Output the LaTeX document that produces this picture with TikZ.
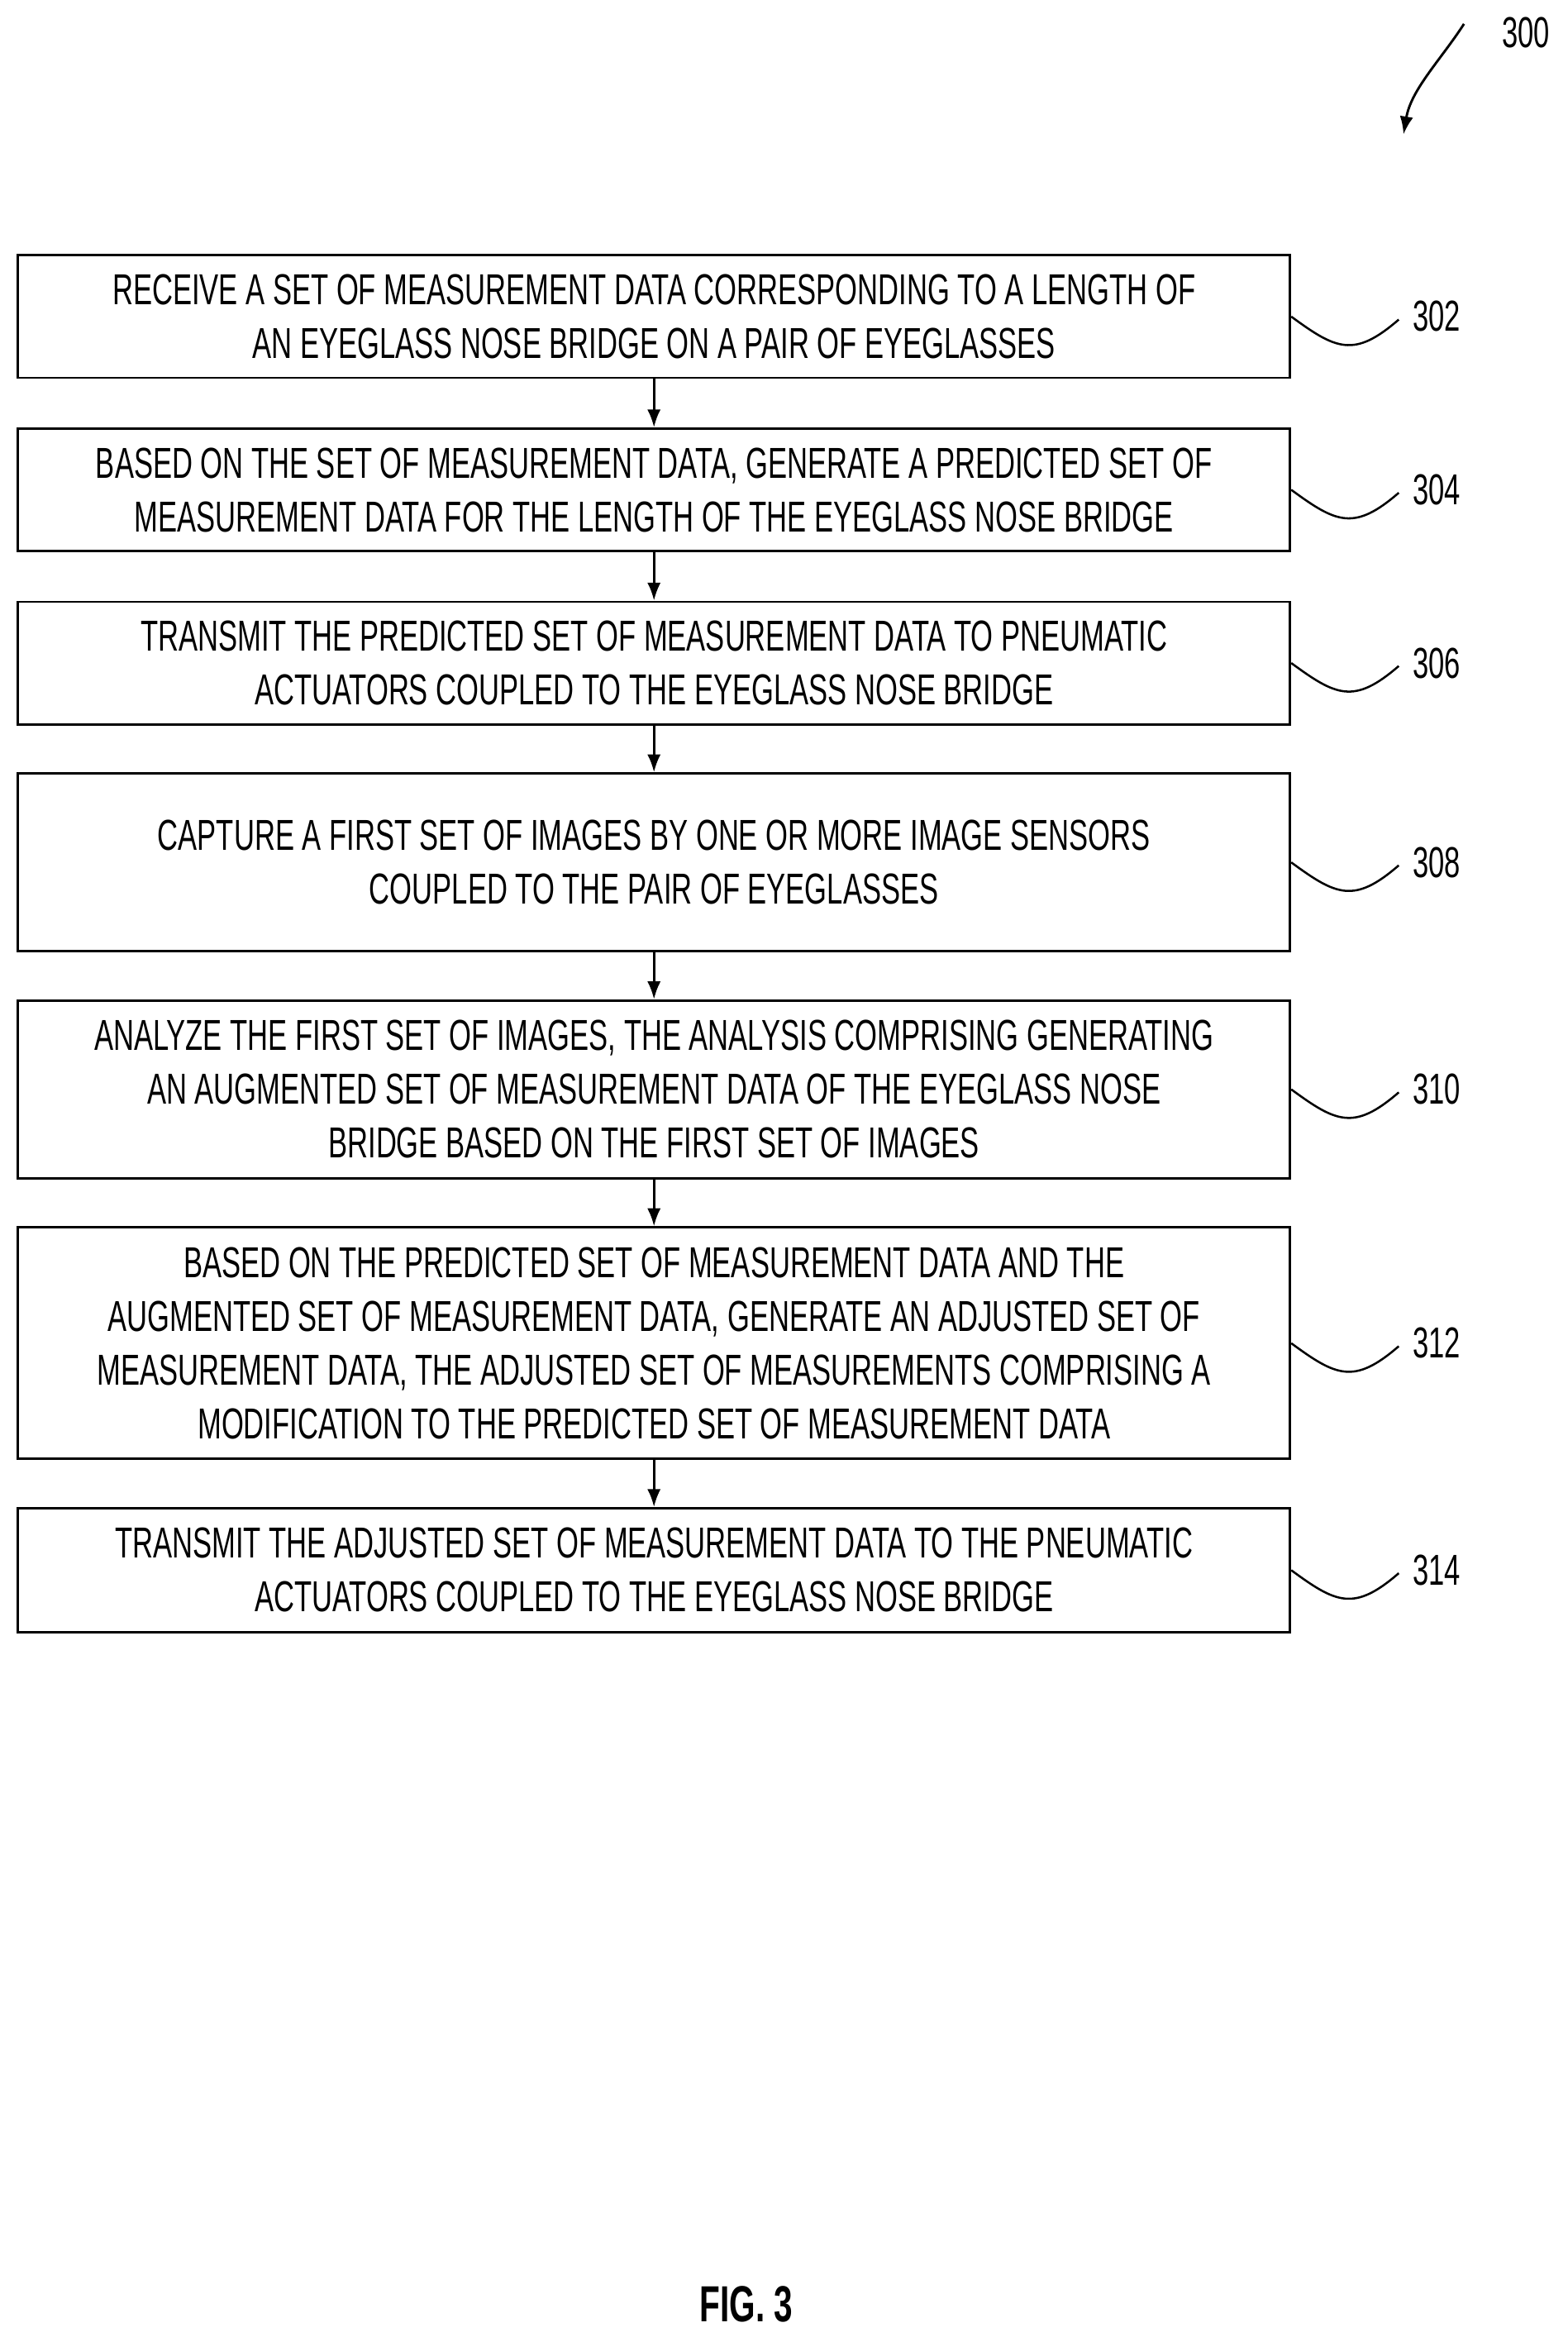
\documentclass[tikz,border=0pt]{standalone}
\usepackage{fontspec}
\setmainfont{Liberation Sans}[FakeStretch=0.66]
\usetikzlibrary{arrows.meta}
\begin{document}
\begin{tikzpicture}[x=1pt,y=-1pt,
  stepbox/.style={draw,line width=1.6pt,minimum width=852pt,align=center,font=\fontsize{29}{36}\selectfont,inner sep=0pt},
  lbl/.style={font=\fontsize{29}{36}\selectfont,anchor=west},
  arr/.style={-{Latex[length=12pt,width=9pt]},line width=1.6pt}]
\useasboundingbox (0,0) rectangle (1050,1565);
\node[stepbox,minimum height=82pt] (b1) at (438,212) {RECEIVE A SET OF MEASUREMENT DATA CORRESPONDING TO A LENGTH OF\\AN EYEGLASS NOSE BRIDGE ON A PAIR OF EYEGLASSES};
\node[stepbox,minimum height=82pt] (b2) at (438,328) {BASED ON THE SET OF MEASUREMENT DATA, GENERATE A PREDICTED SET OF\\MEASUREMENT DATA FOR THE LENGTH OF THE EYEGLASS NOSE BRIDGE};
\node[stepbox,minimum height=82pt] (b3) at (438,444) {TRANSMIT THE PREDICTED SET OF MEASUREMENT DATA TO PNEUMATIC\\ACTUATORS COUPLED TO THE EYEGLASS NOSE BRIDGE};
\node[stepbox,minimum height=119pt] (b4) at (438,577.5) {CAPTURE A FIRST SET OF IMAGES BY ONE OR MORE IMAGE SENSORS\\COUPLED TO THE PAIR OF EYEGLASSES};
\node[stepbox,minimum height=119pt] (b5) at (438,729.5) {ANALYZE THE FIRST SET OF IMAGES, THE ANALYSIS COMPRISING GENERATING\\AN AUGMENTED SET OF MEASUREMENT DATA OF THE EYEGLASS NOSE\\BRIDGE BASED ON THE FIRST SET OF IMAGES};
\node[stepbox,minimum height=155pt] (b6) at (438,899.5) {BASED ON THE PREDICTED SET OF MEASUREMENT DATA AND THE\\AUGMENTED SET OF MEASUREMENT DATA, GENERATE AN ADJUSTED SET OF\\MEASUREMENT DATA, THE ADJUSTED SET OF MEASUREMENTS COMPRISING A\\MODIFICATION TO THE PREDICTED SET OF MEASUREMENT DATA};
\node[stepbox,minimum height=83pt] (b7) at (438,1051.5) {TRANSMIT THE ADJUSTED SET OF MEASUREMENT DATA TO THE PNEUMATIC\\ACTUATORS COUPLED TO THE EYEGLASS NOSE BRIDGE};
\foreach \a/\b in {b1/b2,b2/b3,b3/b4,b4/b5,b5/b6,b6/b7} \draw[arr] (\a.south) -- (\b.north);
\foreach \b/\n in {b1/302,b2/304,b3/306,b4/308,b5/310,b6/312,b7/314}{
  \coordinate (s\n) at ([xshift=72pt,yshift=-2pt]\b.east);
  \draw[line width=1.4pt] (\b.east) .. controls ++(30,22) and ++(-30,26) .. (s\n);
  \node[lbl] (l\n) at ([xshift=6pt,yshift=2pt]s\n) {\n};
}
\node[font=\fontsize{29}{36}\selectfont] (t300) at (1022,22) {300};
\coordinate (a300) at (940,90);
\draw[arr] ([xshift=-22pt,yshift=6pt]t300.west) .. controls (965,40) and (945,60) .. (a300);
\node[font=\bfseries\fontsize{34}{40}\selectfont] (fig) at (500,1543) {FIG. 3};
\end{tikzpicture}
\end{document}
